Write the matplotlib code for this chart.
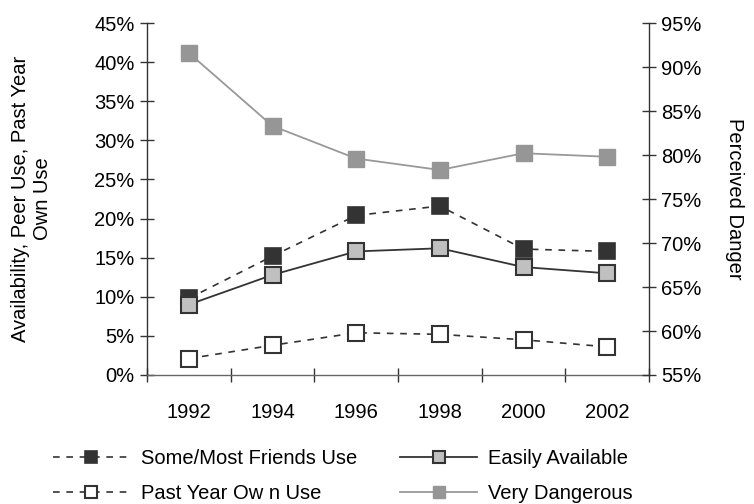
import matplotlib
matplotlib.use("Agg")
import matplotlib.pyplot as plt
from matplotlib.ticker import FuncFormatter, FixedLocator

plt.rcParams['font.family'] = ['Liberation Sans', 'DejaVu Sans']

years = ['1992', '1994', '1996', '1998', '2000', '2002']
friends_use = [9.8, 15.2, 20.4, 21.6, 16.1, 15.8]
easily_available = [9.0, 12.8, 15.8, 16.2, 13.8, 13.0]
past_year_use = [2.1, 3.8, 5.4, 5.2, 4.5, 3.6]
very_dangerous = [91.6, 83.3, 79.6, 78.3, 80.2, 79.8]

fig = plt.figure(figsize=(7.54, 5.04), dpi=100)
ax = fig.add_axes([147/754, 1-375/504, (649-147)/754, (375-23)/504])
ax2 = ax.twinx()

x = list(range(len(years)))
dark = '#333333'
ms = 11.5
fs = 14.5

l1, = ax.plot(x, friends_use, ls=(0, (4, 4)), lw=1.2, color=dark, marker='s', ms=ms,
              mfc=dark, mec=dark, mew=1.2, label='Some/Most Friends Use', zorder=3)
l3, = ax.plot(x, past_year_use, ls=(0, (4, 4)), lw=1.2, color=dark, marker='s', ms=ms,
              mfc='white', mec=dark, mew=1.5, label='Past Year Ow n Use', zorder=3)
l2, = ax.plot(x, easily_available, ls='-', lw=1.3, color=dark, marker='s', ms=ms,
              mfc='#c0c0c0', mec=dark, mew=1.5, label='Easily Available', zorder=4)
l4, = ax2.plot(x, very_dangerous, ls='-', lw=1.3, color='#999999', marker='s', ms=ms,
               mfc='#969696', mec='#969696', mew=1, label='Very Dangerous')

ax.set_xlim(-0.5, len(years) - 0.5)
ax.set_ylim(0, 45)
ax2.set_ylim(55, 95)
ax.set_yticks(range(0, 46, 5))
ax2.set_yticks(range(55, 96, 5))
pct = FuncFormatter(lambda v, p: f'{v:.0f}%')
ax.yaxis.set_major_formatter(pct)
ax2.yaxis.set_major_formatter(pct)

ax.set_xticks(x)
ax.set_xticklabels(years)
ax.xaxis.set_minor_locator(FixedLocator([i - 0.5 for i in range(len(years) + 1)]))
ax.tick_params(axis='x', which='major', length=0, pad=20, labelsize=fs)
ax.tick_params(axis='x', which='minor', direction='inout', length=10, width=1, color=dark)
ax.tick_params(axis='y', direction='inout', length=10, width=1, labelsize=fs, pad=4, color=dark)
ax2.tick_params(axis='y', direction='inout', length=10, width=1, labelsize=fs, pad=4, color=dark)

for a in (ax, ax2):
    a.spines['top'].set_visible(False)
    for s in ('left', 'right', 'bottom'):
        a.spines[s].set_color(dark)
        a.spines[s].set_linewidth(1)
ax.spines['right'].set_visible(False)
ax2.spines['left'].set_visible(False)
ax2.spines['bottom'].set_visible(False)
ax.spines['bottom'].set_color('#666666')

ax.set_ylabel('Availability, Peer Use, Past Year\nOwn Use', fontsize=fs, labelpad=30, linespacing=1.2)
ax2.set_ylabel('Perceived Danger', fontsize=fs, rotation=270, labelpad=30)

fig.legend(handles=[l1, l3, l2, l4], loc='upper left', bbox_to_anchor=(39/754, 1-435/504),
           ncol=2, frameon=False, fontsize=fs, markerscale=0.7, handlelength=3.8,
           handletextpad=0.55, columnspacing=2.15, labelspacing=0.8, borderpad=0.2)

fig.savefig('out.png', dpi=100)
